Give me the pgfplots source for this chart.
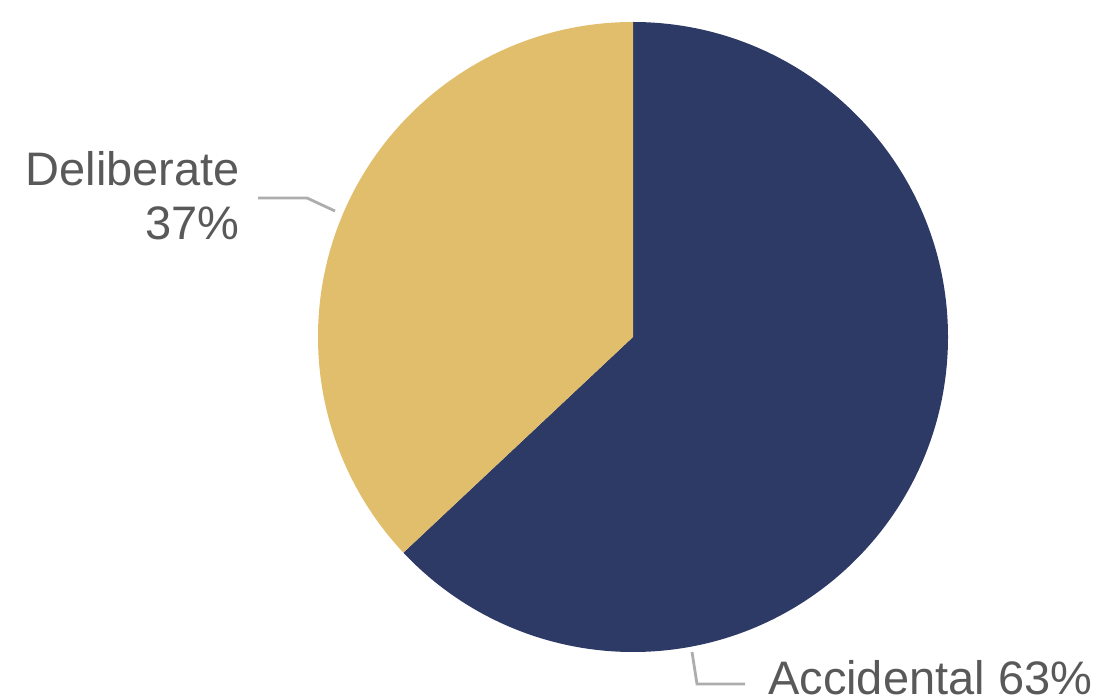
\documentclass[border=0pt]{standalone}
\usepackage{pgfplots}
\pgfplotsset{compat=1.18}
\usepackage{fontspec}
\setmainfont{Liberation Sans}
\definecolor{navy}{HTML}{2E3A66}
\definecolor{gold}{HTML}{E0BE6B}
\definecolor{txt}{HTML}{595959}
\definecolor{lead}{HTML}{ADADAD}
\def\vAcc{63}
\def\vDel{37}
\begin{document}
\begin{tikzpicture}
\begin{axis}[x=1pt,y=1pt,xmin=0,xmax=1095,ymin=0,ymax=699,hide axis,clip=false,scale only axis]
\pgfmathsetmacro{\aEnd}{90-\vAcc/100*360}
\pgfmathsetmacro{\dEnd}{90+\vDel/100*360}
\coordinate (bl) at (axis cs:0,0);
\coordinate (tr) at (axis cs:1095,699);
\fill[navy] (axis cs:633,362) -- (axis cs:633,677) arc[start angle=90, end angle=\aEnd, radius=315pt] -- cycle;
\fill[gold] (axis cs:633,362) -- (axis cs:633,677) arc[start angle=90, end angle=\dEnd, radius=315pt] -- cycle;
\draw[lead, line width=2.8pt] (axis cs:258,501) -- (axis cs:307,501) -- (axis cs:335,488);
\draw[lead, line width=2.8pt] (axis cs:692,47) -- (axis cs:697,15) -- (axis cs:745,15);
\node[anchor=base east, inner sep=0, text=txt, font=\fontsize{47}{54}\selectfont] at (axis cs:240,513) {Deliberate};
\node[anchor=base east, inner sep=0, text=txt, font=\fontsize{47}{54}\selectfont] at (axis cs:240,459) {\vDel\%};
\node[anchor=base west, inner sep=0, text=txt, font=\fontsize{47}{54}\selectfont] at (axis cs:768,5) {Accidental \vAcc\%};
\end{axis}
\pgfresetboundingbox
\path[use as bounding box] (bl) rectangle (tr);
\end{tikzpicture}
\end{document}
